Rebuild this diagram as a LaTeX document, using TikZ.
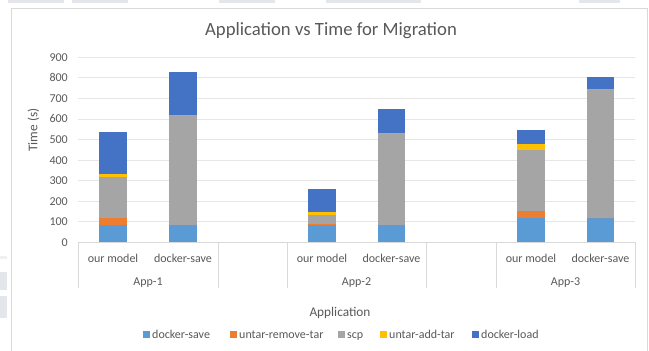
\documentclass[tikz,border=0pt]{standalone}
\usepackage{fontspec}
\setmainfont{Carlito}
\definecolor{cds}{HTML}{5B9BD5}
\definecolor{curt}{HTML}{ED7D31}
\definecolor{cscp}{HTML}{A5A5A5}
\definecolor{cuat}{HTML}{FFC000}
\definecolor{cdl}{HTML}{4472C4}
\definecolor{txt}{HTML}{595959}
\definecolor{grid}{HTML}{E6E6E6}
\definecolor{frame}{HTML}{D9D9D9}
\definecolor{blob}{HTML}{E3E7EC}
\tikzset{
  ticklbl/.style={text=txt,font=\fontsize{12}{12}\selectfont,inner sep=0pt,text height=8.2pt,text depth=0.2pt},
  axtitle/.style={text=txt,font=\fontsize{13.3}{13.3}\selectfont,inner sep=0pt,text height=9.1pt,text depth=0.2pt},
  legsq/.style={minimum size=7pt,inner sep=0pt},
}
\newcommand\vy[1]{242.3-0.2056*(#1)}
% x center, five segment values
\newcommand\stackbar[6]{%
  \pgfmathsetmacro\aa{0}\pgfmathsetmacro\bb{#2}%
  \fill[cds] (#1-13.7,{\vy{\aa}}) rectangle (#1+13.7,{\vy{\bb}});
  \pgfmathsetmacro\aa{\bb}\pgfmathsetmacro\bb{\aa+#3}%
  \fill[curt] (#1-13.7,{\vy{\aa}}) rectangle (#1+13.7,{\vy{\bb}});
  \pgfmathsetmacro\aa{\bb}\pgfmathsetmacro\bb{\aa+#4}%
  \fill[cscp] (#1-13.7,{\vy{\aa}}) rectangle (#1+13.7,{\vy{\bb}});
  \pgfmathsetmacro\aa{\bb}\pgfmathsetmacro\bb{\aa+#5}%
  \fill[cuat] (#1-13.7,{\vy{\aa}}) rectangle (#1+13.7,{\vy{\bb}});
  \pgfmathsetmacro\aa{\bb}\pgfmathsetmacro\bb{\aa+#6}%
  \fill[cdl] (#1-13.7,{\vy{\aa}}) rectangle (#1+13.7,{\vy{\bb}});
}
\begin{document}
\begin{tikzpicture}[x=1pt,y=-1pt]
\useasboundingbox (0,0) rectangle (649,351);
\fill[white] (0,0) rectangle (649,351);
% scan artefacts
\fill[blob] (8,0) rectangle (64,2.5);
\fill[blob] (72,0) rectangle (128,2.5);
\fill[blob] (219,0) rectangle (275,2.5);
\fill[blob] (326,0) rectangle (421,2.5);
\fill[blob] (579,0) rectangle (620,2.5);
\fill[blob!60] (0,256) rectangle (7,259);
\fill[blob] (0,272) rectangle (7,290);
\fill[blob] (0,296) rectangle (7,318);
% frame
\draw[frame,line width=1pt] (11.5,360) -- (11.5,8.5) -- (647,8.5) -- (647,360);
% gridlines
\foreach \v in {100,200,...,900}
  \draw[grid,line width=0.8pt] (78,{\vy{\v}}) -- (635,{\vy{\v}});
% y tick labels
\foreach \v [count=\i] in {0,100,...,900}
  \node[ticklbl,anchor=east] (yt\i) at (68,{\vy{\v}}) {\v};
% bars
\stackbar{113}{84}{33}{199}{16}{206}
\stackbar{183}{84}{0}{535}{0}{211}
\stackbar{322}{84}{5}{44}{16}{110}
\stackbar{391.5}{84}{0}{449}{0}{114}
\stackbar{531}{117}{34}{298}{28}{68}
\stackbar{600.5}{117}{0}{627}{0}{61}
% axis line and category separators
\draw[frame,line width=0.8pt] (78,242.3) -- (635,242.3);
\foreach \x in {78,218,287,426,496,635}
  \draw[frame,line width=0.8pt] (\x,242.3) -- (\x,288);
% category labels
\node[ticklbl] (c1) at (113,258) {our model};
\node[ticklbl] (c2) at (183,258) {docker-save};
\node[ticklbl] (c3) at (322,258) {our model};
\node[ticklbl] (c4) at (391.5,258) {docker-save};
\node[ticklbl] (c5) at (531,258) {our model};
\node[ticklbl] (c6) at (600.5,258) {docker-save};
\node[ticklbl] (g1) at (148,281) {App-1};
\node[ticklbl] (g2) at (356.5,281) {App-2};
\node[ticklbl] (g3) at (565.5,281) {App-3};
% titles
\node[text=txt,font=\fontsize{18.7}{18.7}\selectfont,inner sep=0pt] (title) at (331,31) {Application vs Time for Migration};
\node[axtitle,rotate=90] (ytitle) at (33,130) {Time (s)};
\node[axtitle] (xtitle) at (340,312) {Application};
% legend
\node[legsq,fill=cds] (l1) at (146.5,334) {};
\node[ticklbl,anchor=west] (lt1) at (152,334) {docker-save};
\node[legsq,fill=curt] (l2) at (233.5,334) {};
\node[ticklbl,anchor=west] (lt2) at (239,334) {untar-remove-tar};
\node[legsq,fill=cscp] (l3) at (341.5,334) {};
\node[ticklbl,anchor=west] (lt3) at (347,334) {scp};
\node[legsq,fill=cuat] (l4) at (383.5,334) {};
\node[ticklbl,anchor=west] (lt4) at (389,334) {untar-add-tar};
\node[legsq,fill=cdl] (l5) at (475.5,334) {};
\node[ticklbl,anchor=west] (lt5) at (481,334) {docker-load};
\end{tikzpicture}
\end{document}
